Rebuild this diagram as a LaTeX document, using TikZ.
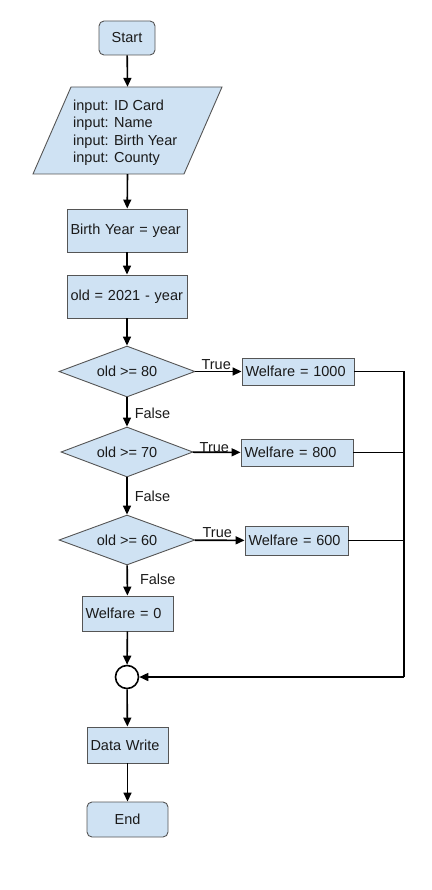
\documentclass[tikz,border=0pt]{standalone}
\usepackage{fontspec}
\setmainfont{Liberation Sans}
\usetikzlibrary{shapes.geometric,arrows.meta}
\definecolor{boxfill}{HTML}{CFE2F3}
\definecolor{boxline}{HTML}{555555}
\definecolor{txt}{HTML}{1A1A1A}
\begin{document}
\begin{tikzpicture}[x=1pt,y=-1pt,
  every node/.style={font=\fontsize{14.5}{17.5}\selectfont, text=txt, inner sep=0pt},
  proc/.style={draw=boxline, fill=boxfill, line width=0.9pt, inner xsep=3.5pt, text width=#1-7pt, align=left},
  term/.style={draw=boxline, fill=boxfill, line width=0.9pt, rounded corners=5pt, minimum width=#1},
  dec/.style={draw=boxline, fill=boxfill, line width=0.9pt, diamond, aspect=2.7},
  shapeline/.style={draw=boxline, fill=boxfill, line width=0.9pt},
  conn/.style={draw=black, line width=1.6pt, -{Triangle[length=9pt,width=8pt]}},
  plain/.style={draw=black, line width=1.6pt},
  lab/.style={font=\fontsize{14.5}{16}\selectfont}
]
\useasboundingbox (0,0) rectangle (431,890);

\node[term=56, minimum height=34] (start) at (127,38) {Start};
\path[shapeline] (71,87) -- (222,87) -- (184,174) -- (33,174) -- cycle;
\node[minimum width=151, minimum height=87] (in) at (127.5,130.5) {};
\node[align=left, anchor=north west] (intxt) at (73,99.5)
  {input: ID Card\\input: Name\\input: Birth Year\\input: County};
\node[proc=120, minimum height=43] (by) at (127,230.5) {Birth Year = year};
\node[proc=120, minimum height=43] (old) at (127,296.5) {old = 2021 - year};
\node[dec, minimum width=136, minimum height=51] (d1) at (127,371.5) {old >= 80};
\node[dec, minimum width=132, minimum height=50] (d2) at (127,452) {old >= 70};
\node[dec, minimum width=136, minimum height=50] (d3) at (127,540) {old >= 60};
\node[proc=112, minimum height=27] (w1) at (298,371.5) {Welfare = 1000};
\node[proc=112, minimum height=27] (w2) at (297,452.5) {Welfare = 800};
\node[proc=103, minimum height=29] (w3) at (296.5,540.5) {Welfare = 600};
\node[proc=91, minimum height=35] (w0) at (127.5,613.5) {Welfare = 0};
\node[circle, draw=black, line width=1.6pt, minimum size=23, fill=white] (merge) at (127,677) {};
\node[proc=81, minimum height=36] (dw) at (127.5,745) {Data Write};
\node[term=81, minimum height=35] (end) at (127.5,819.5) {End};

\coordinate (jt) at (404,371.5);
\coordinate (jb) at (404,677);

\draw[conn] (start) -- (in.north);
\draw[conn] (in.south) -- (by);
\draw[conn] (by) -- (old);
\draw[conn] (old) -- (d1);
\draw[conn] (d1) -- node[lab, above, pos=0.45, yshift=1pt] {True} (w1);
\draw[conn] (d2) -- node[lab, above, pos=0.45, yshift=-1pt] {True} (w2);
\draw[conn] (d3) -- node[lab, above, pos=0.45, yshift=2pt] {True} (w3);
\draw[conn] (d1) -- node[lab, right, xshift=7pt, pos=0.55] {False} (d2);
\draw[conn] (d2) -- node[lab, right, xshift=7pt, pos=0.5] {False} (d3);
\draw[conn] (d3) -- node[lab, right, xshift=12pt, pos=0.45] {False} (w0);
\draw[conn] (w0) -- (merge);
\draw[plain] (w1.east) -- (jt) -- (jb);
\draw[plain] (w2.east) -- (w2.east -| jt);
\draw[plain] (w3.east) -- (w3.east -| jt);
\draw[conn] (jb) -- (merge);
\draw[conn] (merge) -- (dw);
\draw[conn] (dw) -- (end);
\end{tikzpicture}
\end{document}
